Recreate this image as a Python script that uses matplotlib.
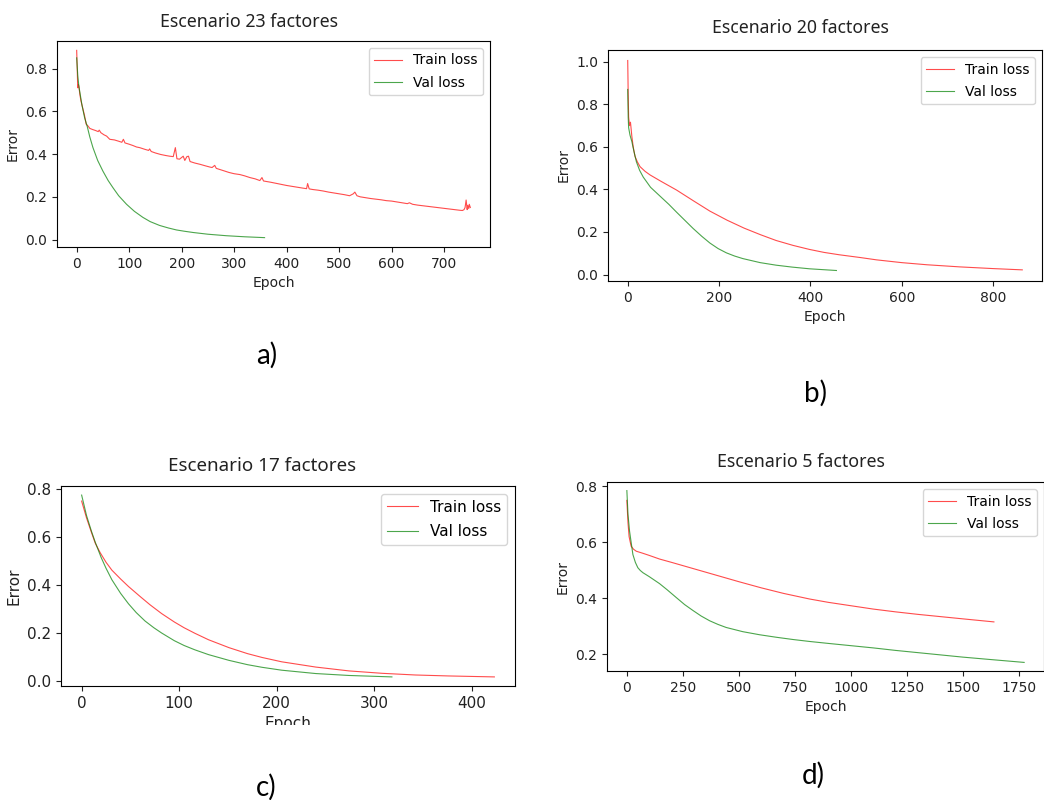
import matplotlib
matplotlib.use("Agg")
import matplotlib.pyplot as plt
from matplotlib.patches import Rectangle

# --- data ---
# a) Escenario 23 factores
a_train_epoch = [0, 1, 2, 3, 4, 6, 8, 11, 15, 18, 22, 25, 30, 36, 41, 43, 46, 52, 57, 63, 72, 80,
                 86, 89, 92, 100, 107, 114, 120, 130, 137, 139, 142, 150, 160, 170, 177, 184, 188,
                 191, 196, 203, 206, 210, 213, 216, 225, 235, 245, 254, 258, 263, 266, 280, 290,
                 300, 311, 320, 330, 340, 349, 353, 356, 370, 380, 390, 400, 410, 420, 430, 438,
                 440, 443, 450, 460, 470, 480, 490, 500, 510, 520, 527, 530, 534, 540, 550, 560,
                 570, 580, 590, 600, 610, 620, 630, 634, 640, 650, 660, 670, 680, 690, 700, 710,
                 720, 730, 735, 738, 740, 742, 744, 745, 747, 748, 750]
a_train_loss = [0.885, 0.80, 0.71, 0.725, 0.72, 0.68, 0.65, 0.62, 0.58, 0.54, 0.53, 0.52, 0.515,
                0.51, 0.505, 0.512, 0.50, 0.49, 0.484, 0.469, 0.466, 0.46, 0.455, 0.469, 0.452,
                0.446, 0.44, 0.433, 0.43, 0.422, 0.417, 0.424, 0.412, 0.405, 0.398, 0.393, 0.39,
                0.388, 0.43, 0.378, 0.376, 0.39, 0.37, 0.388, 0.39, 0.365, 0.358, 0.352, 0.345,
                0.339, 0.337, 0.347, 0.333, 0.322, 0.314, 0.308, 0.304, 0.298, 0.29, 0.284,
                0.276, 0.29, 0.274, 0.268, 0.263, 0.258, 0.253, 0.249, 0.245, 0.241, 0.238,
                0.262, 0.237, 0.234, 0.231, 0.227, 0.222, 0.218, 0.214, 0.21, 0.205, 0.214,
                0.222, 0.205, 0.2, 0.196, 0.192, 0.189, 0.186, 0.182, 0.18, 0.176, 0.172, 0.168,
                0.172, 0.165, 0.161, 0.158, 0.155, 0.152, 0.149, 0.146, 0.143, 0.14, 0.137,
                0.136, 0.14, 0.15, 0.185, 0.14, 0.16, 0.145, 0.165, 0.15]
a_val_epoch = [0, 2, 4, 6, 10, 15, 20, 25, 31, 40, 50, 60, 69, 80, 95, 110, 126, 140, 158, 175,
               190, 205, 222, 250, 285, 320, 358]
a_val_loss = [0.85, 0.77, 0.72, 0.69, 0.63, 0.571, 0.53, 0.48, 0.43, 0.37, 0.32, 0.276, 0.243,
              0.205, 0.165, 0.132, 0.104, 0.084, 0.066, 0.054, 0.045, 0.039, 0.033, 0.025,
              0.018, 0.013, 0.009]

# b) Escenario 20 factores
b_train_epoch = [0, 1, 2, 4, 6, 9, 12, 16, 21, 27, 38, 49, 73, 107, 145, 180, 218, 255, 291,
                 325, 362, 398, 430, 463, 509, 545, 600, 655, 727, 800, 864]
b_train_loss = [1.006, 0.85, 0.74, 0.70, 0.716, 0.65, 0.60, 0.555, 0.53, 0.507, 0.485, 0.468,
                0.438, 0.397, 0.345, 0.298, 0.255, 0.218, 0.187, 0.16, 0.137, 0.118, 0.104,
                0.093, 0.08, 0.069, 0.056, 0.046, 0.036, 0.028, 0.022]
b_val_epoch = [0, 1, 2, 5, 9, 14, 19, 26, 34, 50, 70, 90, 107, 125, 143, 162, 180, 198, 216,
               234, 252, 290, 325, 360, 398, 457]
b_val_loss = [0.87, 0.74, 0.69, 0.655, 0.625, 0.575, 0.53, 0.49, 0.458, 0.41, 0.37, 0.33, 0.293,
              0.255, 0.217, 0.18, 0.148, 0.122, 0.102, 0.087, 0.075, 0.056, 0.044, 0.035,
              0.027, 0.019]

# c) Escenario 17 factores
c_train_epoch = [0, 5, 10, 14, 19, 25, 31, 40, 48, 60, 70, 82, 95, 105, 116, 130, 151, 170, 185,
                 205, 240, 274, 308, 342, 376, 423]
c_train_loss = [0.75, 0.68, 0.62, 0.574, 0.535, 0.495, 0.462, 0.425, 0.394, 0.352, 0.318, 0.281,
                0.246, 0.222, 0.199, 0.172, 0.139, 0.114, 0.098, 0.08, 0.058, 0.042, 0.032, 0.025,
                0.021, 0.017]
c_val_epoch = [0, 5, 10, 14, 20, 25, 31, 40, 48, 56, 65, 74, 82, 95, 105, 116, 130, 151, 170, 185,
               205, 240, 274, 318]
c_val_loss = [0.775, 0.69, 0.625, 0.578, 0.515, 0.47, 0.422, 0.365, 0.322, 0.285, 0.25, 0.222,
              0.2, 0.168, 0.148, 0.13, 0.11, 0.086, 0.068, 0.057, 0.045, 0.031, 0.023, 0.017]

# d) Escenario 5 factores
d_train_epoch = [0, 5, 10, 19, 30, 42, 70, 100, 146, 200, 300, 400, 500, 600, 700, 816,
                 900, 1000, 1100, 1200, 1300, 1400, 1500, 1640]
d_train_loss = [0.75, 0.67, 0.62, 0.586, 0.575, 0.568, 0.561, 0.553, 0.54, 0.528, 0.505, 0.482,
                0.459, 0.437, 0.417, 0.397, 0.385, 0.373, 0.361, 0.351, 0.342, 0.334,
                0.326, 0.315]
d_val_epoch = [0, 5, 12, 20, 27, 38, 49, 60, 72, 100, 146, 180, 221, 258, 295, 332, 370, 407,
               444, 518, 593, 668, 742, 816, 900, 1000, 1100, 1200, 1300, 1400, 1500, 1600,
               1775]
d_val_loss = [0.785, 0.70, 0.64, 0.595, 0.556, 0.528, 0.509, 0.499, 0.491, 0.477, 0.452, 0.43,
              0.402, 0.377, 0.356, 0.336, 0.319, 0.306, 0.295, 0.28, 0.269, 0.26, 0.252, 0.245,
              0.238, 0.23, 0.222, 0.213, 0.205, 0.197, 0.189, 0.182, 0.17]
d_yticks = [0.2, 0.4, 0.6, 0.8]

W, H = 1044, 800
fig = plt.figure(figsize=(W / 100, H / 100), dpi=100)


def panel(rect_px, title, train, val, fs, tfs, pad):
    # rect_px = left, top, right, bottom in pixels of the final image
    l, t, r, b = rect_px
    ax = fig.add_axes([l / W, (H - b) / H, (r - l) / W, (b - t) / H])
    ax.plot(train[0], train[1], color="red", lw=0.8, alpha=0.7, label="Train loss")
    ax.plot(val[0], val[1], color="green", lw=0.8, alpha=0.7, label="Val loss")
    ax.set_title(title, fontsize=tfs, family="Noto Sans", color="#222222", pad=pad, x=0.443)
    ax.set_xlabel("Epoch", fontsize=fs, color="#222222")
    ax.set_ylabel("Error", fontsize=fs, color="#222222")
    ax.tick_params(labelsize=fs, colors="#222222")
    ax.legend(loc="upper right", fontsize=fs, labelspacing=0.6)
    return ax


panel((57, 41, 490, 247), "Escenario 23 factores",
      (a_train_epoch, a_train_loss), (a_val_epoch, a_val_loss), 10, 12.8, 10)
panel((608, 50, 1042, 281), "Escenario 20 factores",
      (b_train_epoch, b_train_loss), (b_val_epoch, b_val_loss), 10, 12.7, 12.5)
panel((61, 486, 515, 686), "Escenario 17 factores",
      (c_train_epoch, c_train_loss), (c_val_epoch, c_val_loss), 11, 13.5, 11)
ax_d = panel((607, 482, 1044, 671), "Escenario 5 factores",
             (d_train_epoch, d_train_loss), (d_val_epoch, d_val_loss), 10, 12.8, 11)
ax_d.set_yticks(d_yticks)

# the c) screenshot was cropped through its x label
fig.add_artist(Rectangle((0, 0), 530 / W, (H - 725) / H, transform=fig.transFigure,
                         facecolor="white", edgecolor="none", zorder=10))

for txt, x, y in [("a)", 267, 355), ("b)", 815, 393), ("c)", 266, 787), ("d)", 813, 775)]:
    fig.text(x / W, (H - y) / H, txt, fontsize=20, family="Lato", ha="center", va="center",
             zorder=11)

fig.savefig("out.png", dpi=100)
